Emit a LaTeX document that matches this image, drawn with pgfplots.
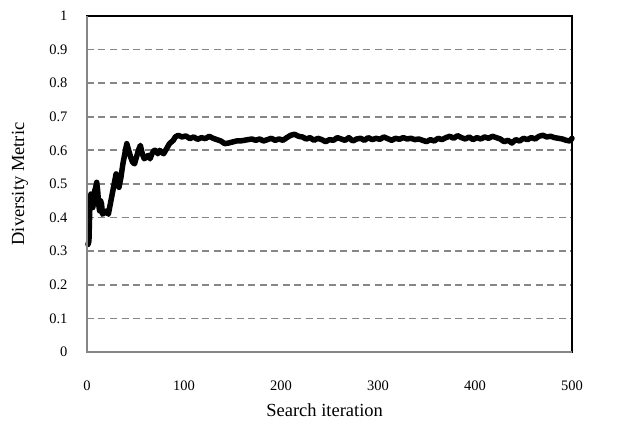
\documentclass[border=0pt]{standalone}
\usepackage{fontspec}
\setmainfont{Liberation Serif}
\usepackage{pgfplots}
\pgfplotsset{compat=1.18}
\definecolor{axgray}{RGB}{134,134,134}
\begin{document}
\begin{tikzpicture}
\begin{axis}[
scale only axis,
width=485pt,
height=336pt,
xmin=0, xmax=500,
ymin=0, ymax=1,
xtick={0,100,200,300,400,500},
ytick={0,0.1,0.2,0.3,0.4,0.5,0.6,0.7,0.8,0.9,1},
yticklabels={0,0.1,0.2,0.3,0.4,0.5,0.6,0.7,0.8,0.9,1},
major tick length=0pt,
/pgf/number format/assume math mode=true,
tick label style={font=\fontsize{14.5}{16}\selectfont},
xticklabel style={yshift=-25pt},
yticklabel style={xshift=-16pt},
ymajorgrids,
grid style={axgray, line width=1.8pt, dash pattern=on 7pt off 4.5pt},
axis line style={black, line width=1.4pt},
xlabel={Search iteration},
ylabel={Diversity Metric},
label style={font=\fontsize{18.5}{21}\selectfont},
xlabel style={at={(axis description cs:0.49,-0.173)}, anchor=center},
ylabel style={at={(axis description cs:-0.138,0.5)}, anchor=center},
clip=false
]
\addplot[black, line width=5.5pt, line join=round, line cap=round] coordinates {
(1,0.32) (2,0.33) (3,0.44) (4,0.47) (5,0.46) (6,0.43) (7,0.45) (8,0.48)
(9,0.49) (10,0.505) (11,0.48) (12,0.44) (13,0.42) (14,0.45) (15,0.44)
(16,0.41) (18,0.415) (20,0.42) (22,0.41) (24,0.44) (26,0.47) (28,0.50)
(30,0.53) (31,0.52) (33,0.49) (35,0.52) (37,0.56) (39,0.59) (41,0.62)
(43,0.60) (45,0.58) (47,0.565) (49,0.56) (51,0.58) (53,0.60) (55,0.615)
(57,0.59) (59,0.575) (61,0.58) (63,0.585) (65,0.575) (67,0.59) (69,0.60)
(71,0.60) (73,0.59) (75,0.60) (77,0.595) (79,0.59) (81,0.60) (83,0.61)
(85,0.62) (87,0.625) (89,0.63) (91,0.64) (94,0.645) (98,0.64) (102,0.643)
(106,0.635) (110,0.64) (114,0.633) (118,0.638) (122,0.635) (126,0.642)
(130,0.636) (134,0.632) (138,0.628) (142,0.62) (146,0.622) (150,0.625)
(154,0.628) (158,0.628) (162,0.63) (166,0.632) (170,0.634) (174,0.63)
(178,0.634) (182,0.628) (186,0.632) (190,0.636) (194,0.63) (198,0.634)
(202,0.63) (206,0.638) (210,0.645) (214,0.648) (218,0.642) (222,0.64)
(226,0.634) (230,0.638) (234,0.63) (238,0.636) (242,0.632) (246,0.626)
(250,0.632) (254,0.63) (258,0.638) (262,0.634) (266,0.63) (270,0.638)
(274,0.628) (278,0.634) (282,0.636) (286,0.63) (290,0.638) (294,0.632)
(298,0.636) (302,0.633) (306,0.64) (310,0.635) (314,0.63) (318,0.636)
(322,0.633) (326,0.638) (330,0.634) (334,0.636) (338,0.632) (342,0.634)
(346,0.63) (350,0.626) (354,0.632) (358,0.628) (362,0.636) (366,0.632)
(370,0.638) (374,0.642) (378,0.636) (382,0.644) (386,0.638) (390,0.634)
(394,0.64) (398,0.632) (402,0.638) (406,0.634) (410,0.64) (414,0.636)
(418,0.642) (422,0.638) (426,0.634) (430,0.626) (434,0.63) (438,0.622)
(442,0.632) (446,0.628) (450,0.636) (454,0.632) (458,0.638) (462,0.634)
(466,0.642) (470,0.645) (474,0.64) (478,0.642) (482,0.638) (486,0.636)
(490,0.634) (494,0.63) (498,0.628) (500,0.636)
};
% left and bottom border in gray, as in the source
\draw[axgray, line width=2.2pt] (rel axis cs:0,1) -- (rel axis cs:0,0) -- (rel axis cs:1,0);
\coordinate (ll) at (rel axis cs:0,0);
\coordinate (ur) at (rel axis cs:1,1);
\end{axis}
\pgfresetboundingbox
\path ([xshift=-87pt,yshift=-73pt]ll) rectangle ([xshift=48pt,yshift=16pt]ur);
\end{tikzpicture}
\end{document}
